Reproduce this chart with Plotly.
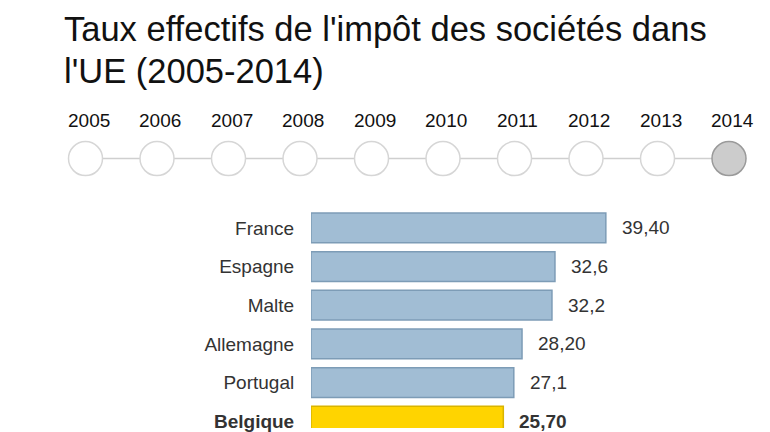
import plotly.graph_objects as go

# ---- data ----
title_lines = ["Taux effectifs de l'impôt des sociétés dans", "l'UE (2005-2014)"]
years = [2005, 2006, 2007, 2008, 2009, 2010, 2011, 2012, 2013, 2014]
selected_year = 2014
countries = ["France", "Espagne", "Malte", "Allemagne", "Portugal", "Belgique"]
values = [39.40, 32.6, 32.2, 28.20, 27.1, 25.70]
value_labels = ["39,40", "32,6", "32,2", "28,20", "27,1", "25,70"]
highlight = "Belgique"

W, H = 770, 432
OFF = 8  # page body margin
FONT = "Liberation Sans, Arial, Helvetica, sans-serif"
TXT = "#333333"


def fx(p):
    return (p - OFF) / W


def fy(p):
    return 1 - (p - OFF) / H


bar_fill = ["#ffd400" if c == highlight else "#a1bdd4" for c in countries]
bar_line = ["#d9b400" if c == highlight else "#7d9cb6" for c in countries]
tick_text = [f"<b>{c}</b>" if c == highlight else c for c in countries]

fig = go.Figure()

# timeline
step = 71.5
x0 = 85.5 - OFF
fig.add_trace(go.Scatter(
    x=years, y=[0.333] * len(years), mode="lines+markers",
    line=dict(color="#cfcfcf", width=1.5),
    marker=dict(size=34,
                color=["#cccccc" if y == selected_year else "#ffffff" for y in years],
                line=dict(color=["#9a9a9a" if y == selected_year else "#d6d6d6" for y in years],
                          width=1.5)),
    xaxis="x2", yaxis="y2", hoverinfo="skip", showlegend=False,
))
for yr in years:
    fig.add_annotation(x=yr, y=0.759, xref="x2", yref="y2", text=str(yr),
                       showarrow=False, xshift=3,
                       font=dict(family=FONT, size=19, color="#111111"))

# bars
fig.add_trace(go.Bar(
    x=values, y=countries, orientation="h",
    marker=dict(color=bar_fill, line=dict(color=bar_line, width=1.5)),
    hoverinfo="skip", showlegend=False,
))
for c, v, t in zip(countries, values, value_labels):
    fig.add_annotation(x=v, y=c, xref="x", yref="y", text=f"<b>{t}</b>" if c == highlight else t,
                       showarrow=False, xanchor="left", xshift=14,
                       font=dict(family=FONT, size=19, color=TXT))

for i, line in enumerate(title_lines):
    fig.add_annotation(x=fx(62), y=fy(8 + 42.4 * i), xref="paper", yref="paper", text=line,
                       showarrow=False, xanchor="left", yanchor="top", align="left",
                       font=dict(family=FONT, size=34.5, color="#111111"))

top = 210.5
row = 39.0
fig.update_layout(
    width=W, height=H, margin=dict(l=0, r=0, t=0, b=0),
    paper_bgcolor="white", plot_bgcolor="white",
    bargap=0.23,
    xaxis=dict(domain=[fx(311), fx(760)], range=[0, 60], visible=False, fixedrange=True),
    yaxis=dict(domain=[fy(432), fy(top)], range=[-0.5 + (432 - top) / row, -0.5], type="category",
               tickvals=countries, ticktext=tick_text, ticks="outside", ticklen=12,
               tickcolor="rgba(0,0,0,0)", showgrid=False, showline=False, zeroline=False,
               tickfont=dict(family=FONT, size=19, color=TXT), fixedrange=True),
    xaxis2=dict(domain=[0, 1], range=[2005 - x0 / step, 2005 + (W - x0) / step],
                visible=False, anchor="y2", fixedrange=True),
    yaxis2=dict(domain=[fy(190), fy(100)], range=[0, 1], visible=False,
                anchor="x2", fixedrange=True),
)

fig.write_html("out.html")
